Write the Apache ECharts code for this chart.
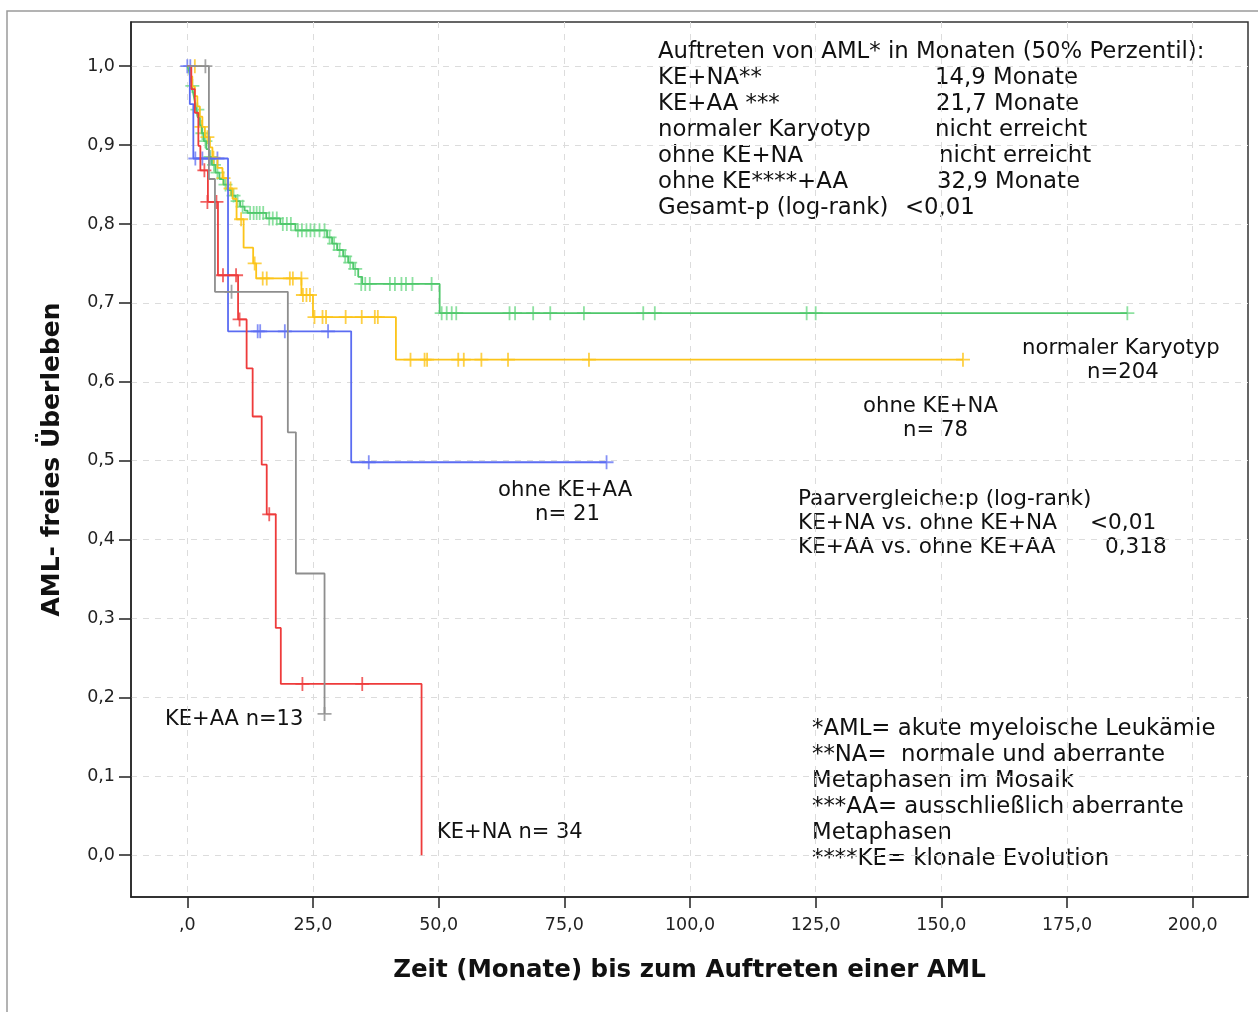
<!DOCTYPE html>
<html lang="de">
<head>
<meta charset="UTF-8">
<title>AML-freies Überleben</title>
<script src="https://cdn.jsdelivr.net/npm/echarts@6/dist/echarts.min.js"></script>
<style>
html,body{margin:0;padding:0;background:#fff}
#chart{width:1258px;height:1012px}
</style>
</head>
<body>
<div id="chart"></div>
<script>
// Achsen
var xTicks = [0, 25, 50, 75, 100, 125, 150, 175, 200];
var yTicks = [0, 0.1, 0.2, 0.3, 0.4, 0.5, 0.6, 0.7, 0.8, 0.9, 1.0];

// KE+NA n=34 (rot): [Monate, Überleben]
var keNaSteps = [[0,1],[0.8,0.971],[1.5,0.941],[2.2,0.899],[2.6,0.868],[4.1,0.828],[6.1,0.735],[10.1,0.679],[11.8,0.617],[13.0,0.556],[14.8,0.495],[15.8,0.432],[17.6,0.288],[18.6,0.217],[46.6,0.0]];
var keNaCensored = [[3.4,0.868],[4.0,0.828],[5.8,0.828],[7.1,0.735],[9.7,0.735],[10.4,0.679],[16.3,0.432],[22.9,0.217],[34.8,0.217]];

// KE+AA n=13 (grau)
var keAaSteps = [[0,1],[4.3,0.857],[5.5,0.714],[20.0,0.536],[21.6,0.357],[27.3,0.179]];
var keAaCensored = [[3.6,1.0],[8.8,0.714],[27.3,0.179]];

// ohne KE+AA n=21 (blau)
var ohneKeAaSteps = [[0,1],[0.5,0.952],[1.2,0.883],[8.1,0.664],[32.6,0.498],[83.4,0.498]];
var ohneKeAaCensored = [[0,1.0],[0.6,1.0],[1.6,0.883],[3.0,0.883],[4.4,0.883],[6.0,0.883],[14.0,0.664],[14.5,0.664],[19.4,0.664],[28.0,0.664],[36.1,0.498],[83.4,0.498]];

// ohne KE+NA n=78 (gelb)
var ohneKeNaSteps = [[0,1],[0.5,0.987],[1.0,0.974],[1.5,0.962],[2.0,0.949],[2.5,0.936],[3.0,0.923],[3.5,0.910],[4.5,0.897],[5.0,0.884],[6.0,0.871],[7.0,0.858],[8.0,0.845],[9.0,0.832],[9.8,0.806],[11.2,0.770],[13.1,0.750],[13.7,0.731],[22.7,0.710],[25.0,0.682],[41.5,0.628],[154.3,0.628]];
var ohneKeNaCensored = [[1.5,1.0],[2.8,0.923],[4.0,0.910],[5.2,0.884],[7.2,0.858],[8.6,0.845],[10.7,0.806],[13.4,0.750],[15.0,0.731],[15.8,0.731],[20.4,0.731],[21.0,0.731],[22.7,0.731],[23.0,0.710],[23.7,0.710],[24.4,0.710],[25.3,0.682],[26.9,0.682],[27.6,0.682],[31.5,0.682],[34.7,0.682],[37.3,0.682],[37.9,0.682],[44.4,0.628],[47.2,0.628],[47.7,0.628],[53.9,0.628],[55.0,0.628],[58.5,0.628],[63.8,0.628],[79.9,0.628],[154.3,0.628]];

// normaler Karyotyp n=204 (grün)
var normalSteps = [[0,1],[0.3,0.995],[0.6,0.985],[0.9,0.975],[1.2,0.965],[1.5,0.955],[1.8,0.945],[2.1,0.935],[2.5,0.925],[2.9,0.915],[3.3,0.905],[3.8,0.895],[4.3,0.885],[4.9,0.875],[5.6,0.865],[6.4,0.857],[7.2,0.850],[8.0,0.843],[8.8,0.836],[9.6,0.829],[10.5,0.822],[11.4,0.817],[12.0,0.814],[15.7,0.807],[18.5,0.800],[21.5,0.792],[27.8,0.783],[28.8,0.775],[29.8,0.767],[31.0,0.759],[32.0,0.751],[33.0,0.743],[34.0,0.733],[34.8,0.724],[50.2,0.687],[187.0,0.687]];
var normalCensored = [[1.0,0.975],[2.0,0.945],[3.0,0.915],[3.6,0.905],[4.6,0.885],[5.3,0.875],[6.0,0.865],[7.6,0.850],[9.2,0.836],[10.0,0.829],[11.0,0.822],[12.5,0.814],[13.2,0.814],[13.8,0.814],[14.4,0.814],[15.1,0.814],[16.3,0.807],[17.0,0.807],[17.8,0.807],[19.0,0.800],[19.8,0.800],[20.6,0.800],[22.0,0.792],[22.8,0.792],[23.7,0.792],[24.5,0.792],[25.3,0.792],[26.3,0.792],[27.3,0.792],[28.3,0.783],[29.2,0.775],[30.3,0.767],[31.4,0.759],[32.4,0.751],[33.4,0.743],[34.6,0.724],[35.4,0.724],[36.3,0.724],[40.3,0.724],[41.3,0.724],[42.6,0.724],[43.5,0.724],[44.8,0.724],[48.6,0.724],[50.6,0.687],[51.6,0.687],[52.6,0.687],[53.5,0.687],[64.1,0.687],[65.2,0.687],[68.8,0.687],[72.2,0.687],[78.9,0.687],[90.7,0.687],[93.0,0.687],[123.2,0.687],[125.0,0.687],[187.0,0.687]];

var FONT = 'DejaVu Sans';
var plusPath = 'path://M6.1,0h1.8v14h-1.8z M0,6.1h14v1.8h-14z';

function kmLine(name, data, color) {
    return {
        name: name, type: 'line', step: 'end', data: data,
        showSymbol: false, silent: true, animation: false,
        lineStyle: {color: color, width: 1.8}
    };
}
function kmCensor(name, data, color) {
    return {
        name: name, type: 'scatter', data: data, symbol: plusPath,
        symbolSize: 14, silent: true, animation: false,
        itemStyle: {color: color}
    };
}
function comma(v, digits) {
    return v.toFixed(digits).replace('.', ',');
}
function txt(x, y, s, size) {
    size = size || 22.8;
    return {
        type: 'text', left: x, top: y - size * 0.42,
        style: {text: s, fill: '#111', font: size + 'px "' + FONT + '"'}
    };
}

var chart = echarts.init(document.getElementById('chart'));
var option = {
    backgroundColor: '#fff',
    animation: false,
    grid: {left: 131, right: 10, top: 22, bottom: 115, show: true, borderColor: '#333', borderWidth: 1.5},
    xAxis: {
        type: 'value', min: -11.2, max: 211,
        name: 'Zeit (Monate) bis zum Auftreten einer AML', nameLocation: 'middle', nameGap: 61,
        nameTextStyle: {fontFamily: FONT, fontWeight: 'bold', fontSize: 24.5, color: '#111'},
        axisLine: {onZero: false, lineStyle: {color: '#222', width: 1.5}},
        axisTick: {show: true, length: 11, customValues: xTicks, lineStyle: {color: '#222', width: 1.5}},
        axisLabel: {customValues: xTicks, margin: 19, fontFamily: FONT, fontSize: 17.5, color: '#222',
            formatter: function (v) { return v === 0 ? ',0' : comma(v, 1); }},
        splitLine: {show: true, lineStyle: {color: '#dcdcdc', type: [6, 6], width: 1}}
    },
    yAxis: {
        type: 'value', min: -0.053, max: 1.056,
        name: 'AML- freies Überleben', nameLocation: 'middle', nameGap: 66,
        nameTextStyle: {fontFamily: FONT, fontWeight: 'bold', fontSize: 25, color: '#111'},
        axisLine: {onZero: false, lineStyle: {color: '#222', width: 1.5}},
        axisTick: {show: true, length: 12, customValues: yTicks, lineStyle: {color: '#222', width: 1.5}},
        axisLabel: {customValues: yTicks, margin: 16, fontFamily: FONT, fontSize: 17.5, color: '#222',
            formatter: function (v) { return comma(v, 1); }},
        splitLine: {show: true, lineStyle: {color: '#dcdcdc', type: [6, 6], width: 1}}
    },
    series: [
        kmLine('normaler Karyotyp', normalSteps, '#4fc76b'),
        kmCensor('normaler Karyotyp', normalCensored, '#72d98a'),
        kmLine('ohne KE+NA', ohneKeNaSteps, '#fcc419'),
        kmCensor('ohne KE+NA', ohneKeNaCensored, '#fcc419'),
        kmLine('ohne KE+AA', ohneKeAaSteps, '#5b6cf2'),
        kmCensor('ohne KE+AA', ohneKeAaCensored, '#6675f4'),
        kmLine('KE+NA', keNaSteps, '#ee3b3b'),
        kmCensor('KE+NA', keNaCensored, '#ee3b3b'),
        kmLine('KE+AA', keAaSteps, '#8e8e8e'),
        kmCensor('KE+AA', keAaCensored, '#8e8e8e')
    ],
    graphic: [
        {type: 'polyline', shape: {points: [[7, 1012], [7, 11], [1258, 11]]}, style: {stroke: '#9a9a9a', lineWidth: 1.5, fill: null}},
        txt(658, 50, 'Auftreten von AML* in Monaten (50% Perzentil):'),
        txt(658, 76, 'KE+NA**'), txt(935, 76, '14,9 Monate'),
        txt(658, 102, 'KE+AA ***'), txt(936, 102, '21,7 Monate'),
        txt(658, 128, 'normaler Karyotyp'), txt(935, 128, 'nicht erreicht'),
        txt(658, 154, 'ohne KE+NA'), txt(939, 154, 'nicht erreicht'),
        txt(658, 180, 'ohne KE****+AA'), txt(937, 180, '32,9 Monate'),
        txt(658, 206, 'Gesamt-p (log-rank)'), txt(905, 206, '<0,01'),
        txt(1022, 347, 'normaler Karyotyp', 21.2), txt(1087, 371, 'n=204', 21.2),
        txt(863, 405, 'ohne KE+NA', 21.2), txt(903, 429, 'n= 78', 21.2),
        txt(498, 489, 'ohne KE+AA', 21.2), txt(535, 513, 'n= 21', 21.2),
        txt(798, 497, 'Paarvergleiche:p (log-rank)', 21.6),
        txt(798, 521, 'KE+NA vs. ohne KE+NA', 21.6), txt(1090, 521, '<0,01', 21.6),
        txt(798, 545, 'KE+AA vs. ohne KE+AA', 21.6), txt(1105, 545, '0,318', 21.6),
        txt(165, 718, 'KE+AA n=13', 21), txt(437, 831, 'KE+NA n= 34', 21),
        txt(812, 727, '*AML= akute myeloische Leukämie'),
        txt(812, 753, '**NA=  normale und aberrante'),
        txt(812, 779, 'Metaphasen im Mosaik'),
        txt(812, 805, '***AA= ausschließlich aberrante'),
        txt(812, 831, 'Metaphasen'),
        txt(812, 857, '****KE= klonale Evolution')
    ]
};
chart.setOption(option);
</script>
</body>
</html>
